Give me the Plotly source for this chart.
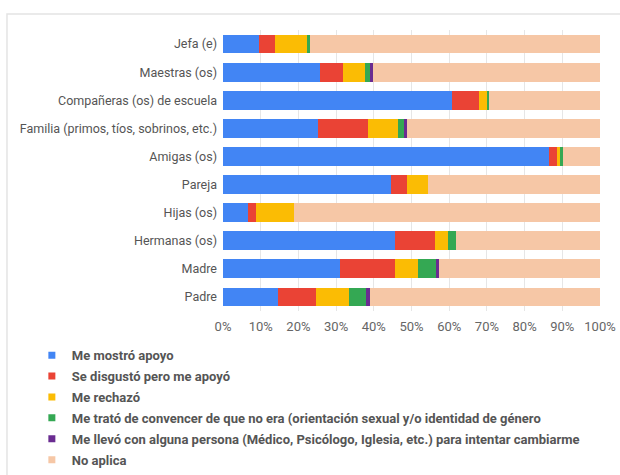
import plotly.graph_objects as go

categories = ["Jefa (e)", "Maestras (os)", "Compañeras (os) de escuela",
              "Familia (primos, tíos, sobrinos, etc.)", "Amigas (os)", "Pareja",
              "Hijas (os)", "Hermanas (os)", "Madre", "Padre"]

series_names = ["Me mostró apoyo", "Se disgustó pero me apoyó", "Me rechazó",
                "Me trató de convencer de que no era (orientación sexual y/o identidad de género",
                "Me llevó con alguna persona (Médico, Psicólogo, Iglesia, etc.) para intentar cambiarme",
                "No aplica"]

apoyo = [9.6, 25.6, 60.8, 25.1, 86.4, 44.5, 6.7, 45.5, 31.1, 14.6]
disgusto = [4.1, 6.1, 7.0, 13.4, 2.3, 4.2, 2.1, 10.7, 14.6, 10.0]
rechazo = [8.7, 6.0, 2.2, 7.8, 0.8, 5.8, 10.1, 3.4, 5.9, 8.7]
convencer = [0.7, 1.2, 0.6, 1.7, 0.7, 0.0, 0.0, 2.3, 4.9, 4.6]
llevo = [0.0, 0.8, 0.0, 0.7, 0.0, 0.0, 0.0, 0.0, 0.9, 1.2]
no_aplica = [76.9, 60.3, 29.4, 51.3, 9.8, 45.5, 81.1, 38.1, 42.6, 60.9]

colors = ["#4285F4", "#EA4335", "#FBBC04", "#34A853", "#6A2C91", "#F6C7A6"]
values = [apoyo, disgusto, rechazo, convencer, llevo, no_aplica]

fig = go.Figure()
for i, (name, vals, col) in enumerate(zip(series_names, values, colors)):
    fig.add_trace(go.Bar(
        y=categories, x=vals, name=name, orientation="h",
        marker=dict(color=col, line=dict(width=0)),
        showlegend=False,
    ))
# legend entries with small square swatches
for i, (name, col) in enumerate(zip(series_names, colors)):
    fig.add_trace(go.Scatter(
        x=[None], y=[None], mode="markers", name=name,
        marker=dict(symbol="square", size=7, color=col),
        legendgroup=f"g{i}", showlegend=True,
    ))

fig.update_layout(
    barmode="stack",
    width=620, height=475,
    margin=dict(l=223, r=20, t=30, b=164, autoexpand=False),
    paper_bgcolor="white", plot_bgcolor="white",
    bargap=0.33,
    font=dict(family="Roboto", size=13, color="#555"),
    xaxis=dict(range=[0, 100], tickvals=list(range(0, 101, 10)),
               ticktext=[f"{v}%" for v in range(0, 101, 10)],
               showgrid=True, gridcolor="#e6e6e6", gridwidth=1,
               zeroline=False, showline=False, ticks="",
               tickfont=dict(size=13, color="#666"), ticklabelstandoff=6),
    yaxis=dict(autorange="reversed", ticks="", showline=False,
               tickfont=dict(size=12.5, color="#555"), ticklabelstandoff=5),
    legend=dict(orientation="v", x=-0.507, xanchor="left", y=-0.104, yanchor="top",
                traceorder="grouped", tracegroupgap=1,
                font=dict(family="Roboto", size=13, color="#555", weight="bold"),
                itemwidth=30, bgcolor="rgba(0,0,0,0)"),
    showlegend=True,
)

fig.add_shape(type="rect", xref="paper", yref="paper",
              x0=-0.573, x1=1.1, y0=-0.7, y1=1.057,
              line=dict(color="#e4e4e4", width=1.5), layer="below")

fig.write_html("out.html")
